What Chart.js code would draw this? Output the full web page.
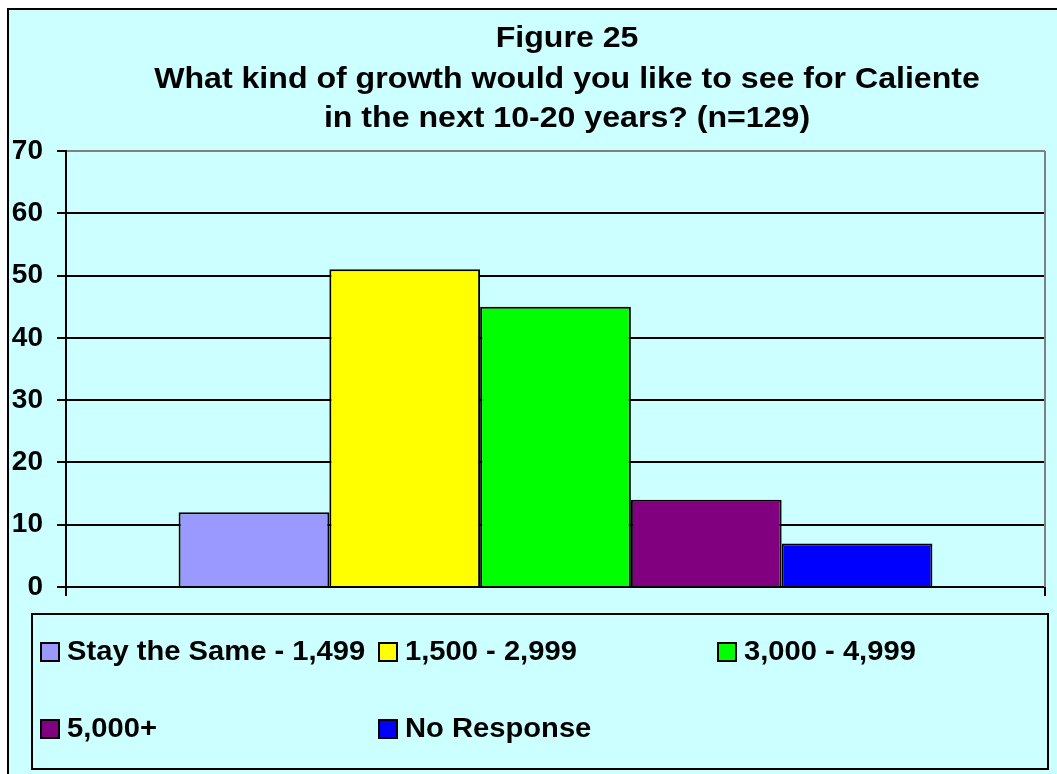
<!DOCTYPE html>
<html>
<head>
<meta charset="utf-8">
<script src="https://cdn.jsdelivr.net/npm/chart.js@4"></script>
<style>
  html, body { margin: 0; padding: 0; background: #fff; }
  #wrap { width: 1057px; height: 774px; }
</style>
</head>
<body>
<div id="wrap"><canvas id="growthChart" width="1057" height="774"></canvas></div>
<script>
// data
const titleLines = ['Figure 25', 'What kind of growth would you like to see for Caliente', 'in the next 10-20 years? (n=129)'];
const categories = [''];
const seriesLabels = ['Stay the Same - 1,499', '1,500 - 2,999', '3,000 - 4,999', '5,000+', 'No Response'];
const seriesValues = [12, 51, 45, 14, 7];
const seriesColors = ['#9999FF', '#FFFF00', '#00FF00', '#800080', '#0000FF'];
const yMin = 0, yMax = 70, yStep = 10;

const FONT = '"Liberation Sans", Arial, sans-serif';
const BG = '#CCFFFF';

// text in the original is a bit wider than the font, so stretch it sideways
function wideText(ctx, text, x, y, sx) {
    ctx.save();
    ctx.translate(x, y);
    ctx.scale(sx, 1);
    ctx.fillText(text, 0, 0);
    ctx.restore();
}

// frame, title and the boxed legend (3 columns, like the excel one)
const framePlugin = {
    id: 'frame',
    beforeDraw(chart) {
        const ctx = chart.ctx;
        ctx.save();
        ctx.fillStyle = '#fff';
        ctx.fillRect(0, 0, chart.width, chart.height);
        ctx.fillStyle = BG;
        ctx.fillRect(7, 8, chart.width, chart.height);
        ctx.strokeStyle = '#000';
        ctx.lineWidth = 2;
        ctx.beginPath();
        ctx.moveTo(8, chart.height + 2);
        ctx.lineTo(8, 9);
        ctx.lineTo(chart.width + 2, 9);
        ctx.stroke();

        // title
        ctx.fillStyle = '#000';
        ctx.font = 'bold 30px ' + FONT;
        ctx.textAlign = 'center';
        ctx.textBaseline = 'alphabetic';
        const base = [47, 88, 127];
        titleLines.forEach((t, i) => wideText(ctx, t, 567, base[i], 1.07));
        ctx.restore();
    },
    afterDraw(chart) {
        const ctx = chart.ctx;
        const area = chart.chartArea;
        ctx.save();
        // grey right edge of plot area
        ctx.strokeStyle = '#808080';
        ctx.lineWidth = 2;
        ctx.beginPath();
        ctx.moveTo(area.right, area.top);
        ctx.lineTo(area.right, area.bottom);
        ctx.stroke();

        // legend box
        ctx.strokeStyle = '#000';
        ctx.strokeRect(32, 614, 1016, 155);
        const cols = [40, 378, 717];
        const rows = [652, 729];
        ctx.font = 'bold 27px ' + FONT;
        ctx.textAlign = 'left';
        ctx.textBaseline = 'middle';
        chart.data.datasets.forEach((ds, i) => {
            const x = cols[i % 3];
            const y = rows[Math.floor(i / 3)];
            ctx.fillStyle = ds.backgroundColor;
            ctx.fillRect(x, y - 10, 20, 20);
            ctx.lineWidth = 2;
            ctx.strokeStyle = '#000';
            ctx.strokeRect(x + 1, y - 9, 18, 18);
            ctx.fillStyle = '#000';
            wideText(ctx, ds.label, x + 27, y + 1, 1.08);
        });
        ctx.restore();
    }
};

const datasets = seriesLabels.map((label, i) => ({
    label: label,
    data: [seriesValues[i]],
    backgroundColor: seriesColors[i],
    borderColor: '#000',
    borderWidth: 2,
    barPercentage: 1,
    categoryPercentage: 0.77
}));

new Chart(document.getElementById('growthChart').getContext('2d'), {
    type: 'bar',
    data: { labels: categories, datasets: datasets },
    options: {
        responsive: false,
        animation: false,
        layout: { padding: { top: 151, right: 12, bottom: 178, left: 0 } },
        plugins: {
            legend: { display: false },
            title: { display: false },
            tooltip: { enabled: true }
        },
        scales: {
            x: {
                offset: true,
                afterFit: s => { s.height = 9; },
                ticks: { display: false },
                grid: { offset: true, drawOnChartArea: false, drawTicks: true, tickLength: 9, color: '#000', lineWidth: 2 },
                border: { display: true, color: '#000', width: 2 }
            },
            y: {
                min: yMin,
                max: yMax,
                afterFit: s => { s.width = 66; },
                ticks: {
                    stepSize: yStep,
                    padding: 14,
                    color: '#000',
                    font: { family: FONT, size: 28, weight: 'bold' }
                },
                grid: {
                    color: c => (c.tick && c.tick.value === yMax ? '#808080' : '#000'),
                    tickColor: '#000',
                    lineWidth: 2,
                    tickLength: 9
                },
                border: { display: true, color: '#000', width: 2 }
            }
        }
    },
    plugins: [framePlugin]
});
</script>
</body>
</html>
